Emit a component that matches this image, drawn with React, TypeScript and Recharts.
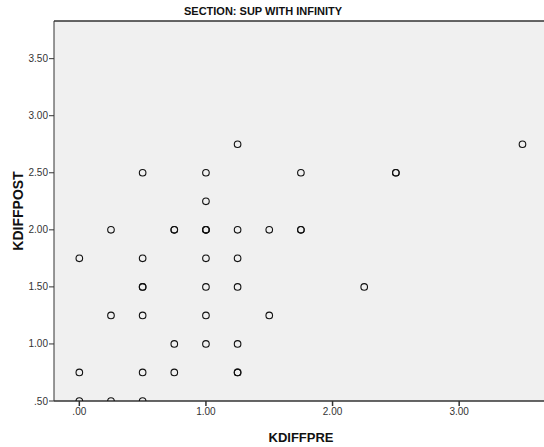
import { ScatterChart, Scatter, XAxis, YAxis, CartesianGrid, ReferenceLine, Label } from 'recharts';

// KDIFFPRE / KDIFFPOST pairs, one entry per case (repeats are overlapping cases)
const kdiffpre = [
  1.25, 3.5,
  0.5, 1.0, 1.75, 2.5, 2.5,
  1.0,
  0.25, 0.75, 0.75, 1.0, 1.0, 1.0, 1.25, 1.5, 1.75, 1.75,
  0.0, 0.5, 1.0, 1.25,
  0.5, 0.5, 1.0, 1.25, 2.25,
  0.25, 0.5, 1.0, 1.5,
  0.75, 1.0, 1.25,
  0.0, 0.5, 0.75, 1.25, 1.25,
  0.0, 0.25, 0.5,
];
const kdiffpost = [
  2.75, 2.75,
  2.5, 2.5, 2.5, 2.5, 2.5,
  2.25,
  2.0, 2.0, 2.0, 2.0, 2.0, 2.0, 2.0, 2.0, 2.0, 2.0,
  1.75, 1.75, 1.75, 1.75,
  1.5, 1.5, 1.5, 1.5, 1.5,
  1.25, 1.25, 1.25, 1.25,
  1.0, 1.0, 1.0,
  0.75, 0.75, 0.75, 0.75, 0.75,
  0.5, 0.5, 0.5,
];

const xTicks = [0, 1, 2, 3];
const yTicks = [0.5, 1.0, 1.5, 2.0, 2.5, 3.0, 3.5];

const X_MIN = -0.2;
const X_MAX = 3.67;
const Y_MIN = 0.5;
const Y_MAX = 3.83;

const data = kdiffpre.map((x, i) => ({ x, y: kdiffpost[i] }));

// SPSS style: ".50", "1.00"
const fmt = (v: number) => v.toFixed(2).replace(/^0/, '');

const tickStyle = { fill: '#333', fontSize: 10, fontFamily: 'Arial, "Liberation Sans", sans-serif' };

function Ring(props: any) {
  const { cx, cy } = props;
  return <circle cx={cx} cy={cy} r={3.3} fill="none" stroke="#111" strokeWidth={1.1} />;
}

export default function App() {
  return (
    <div style={{ position: 'absolute', left: 0, top: 0, width: 544, height: 447, background: '#fff' }}>
      <div
        style={{
          position: 'absolute',
          left: 0,
          top: 5,
          width: 526,
          textAlign: 'center',
          fontFamily: 'Arial, "Liberation Sans", sans-serif',
          fontWeight: 'bold',
          fontSize: 11,
          lineHeight: '12px',
          color: '#111',
        }}
      >
        SECTION: SUP WITH INFINITY
      </div>
      <ScatterChart width={544} height={447} margin={{ top: 21, right: 0, bottom: 0, left: 0 }}>
        <CartesianGrid fill="#f0f0f0" horizontal={false} vertical={false} />
        <XAxis
          type="number"
          dataKey="x"
          domain={[X_MIN, X_MAX]}
          ticks={xTicks}
          tickFormatter={fmt}
          height={46}
          stroke="#333"
          strokeWidth={1.5}
          tickSize={5}
          tickMargin={2}
          tick={tickStyle}
          allowDataOverflow
        >
          <Label
            content={() => (
              <text
                x={301}
                y={442}
                textAnchor="middle"
                fontFamily='Arial, "Liberation Sans", sans-serif'
                fontWeight="bold"
                fontSize={13}
                fill="#111"
              >
                KDIFFPRE
              </text>
            )}
          />
        </XAxis>
        <YAxis
          type="number"
          dataKey="y"
          domain={[Y_MIN, Y_MAX]}
          ticks={yTicks}
          tickFormatter={fmt}
          width={54}
          stroke="#333"
          tickSize={5}
          tickMargin={1}
          tick={tickStyle}
          allowDataOverflow
        >
          <Label
            content={() => (
              <text
                x={23}
                y={211}
                transform="rotate(-90 23 211)"
                textAnchor="middle"
                fontFamily='Arial, "Liberation Sans", sans-serif'
                fontWeight="bold"
                fontSize={14}
                fill="#111"
              >
                KDIFFPOST
              </text>
            )}
          />
        </YAxis>
        <ReferenceLine y={Y_MAX} stroke="#333" strokeWidth={1.5} />
        <Scatter data={data} shape={Ring} isAnimationActive={false} />
      </ScatterChart>
    </div>
  );
}
